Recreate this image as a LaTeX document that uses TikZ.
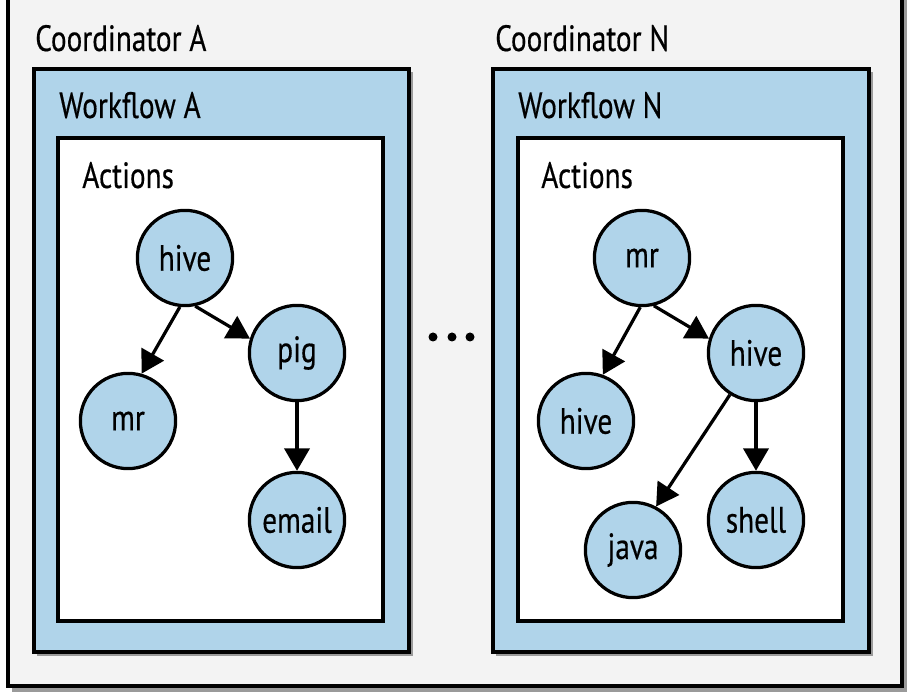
\documentclass[tikz,border=0pt]{standalone}
\usepackage{fontspec}
\setmainfont[FakeStretch=0.8, FakeBold=0.4]{PT Sans}
\usetikzlibrary{arrows.meta}
\definecolor{wfblue}{HTML}{B0D4EA}
\definecolor{bggray}{HTML}{F3F3F3}
\definecolor{shadowgray}{HTML}{9A9A9A}

\begin{document}
\begin{tikzpicture}[x=0.025cm, y=-0.025cm,
    box/.style={line width=2.7pt},
    title/.style={anchor=base west, inner sep=0pt, font=\fontsize{26}{28}\selectfont},
    action/.style={circle, draw, line width=2.3pt, fill=wfblue, minimum size=2.38cm,
        inner sep=0pt, font=\fontsize{26}{28}\selectfont},
    flow/.style={line width=2.3pt, -{Triangle[length=16pt, width=18pt]}}]
    \useasboundingbox (0,0) rectangle (910,694);
    \clip (0,0) rectangle (910,694);
    \fill[white] (0,0) rectangle (910,694);

    % Coordinator frame (top edge lies above the picture)
    \fill[shadowgray] (12,-10) rectangle (907,692);
    \filldraw[box, fill=bggray] (8,-20) rectangle (902,686);

    % Workflow A
    \fill[shadowgray] (37,72) rectangle (413,656);
    \filldraw[box, fill=wfblue] (34,69) rectangle (409,652);
    \filldraw[box, fill=white] (58,138) rectangle (383,621);
    % Workflow N
    \fill[shadowgray] (496,72) rectangle (873,656);
    \filldraw[box, fill=wfblue] (493,69) rectangle (869,652);
    \filldraw[box, fill=white] (518,138) rectangle (843,621);

    % Titles
    \node[title] (coordA) at (35,51) {Coordinator A};
    \node[title] (wfA) at (59,118) {Workflow A};
    \node[title] (actA) at (82,188) {Actions};
    \node[title] (coordN) at (495,51) {Coordinator N};
    \node[title] (wfN) at (518,118) {Workflow N};
    \node[title] (actN) at (541,188) {Actions};

    % Dots between the coordinators
    \foreach \x in {433,452,470}
        \fill (\x,337) circle (4.5);

    % Actions of workflow A
    \node[action] (hiveA) at (185,258) {hive};
    \node[action] (pigA) at (297,353) {pig};
    \node[action] (mrA) at (128,421) {mr};
    \node[action] (emailA) at (297,520) {email};
    \draw[flow] (hiveA.-96) -- (mrA.74);
    \draw[flow] (hiveA.-78) -- (pigA.163);
    \draw[flow] (pigA) -- (emailA);

    % Actions of workflow N
    \node[action] (mrN) at (642,258) {mr};
    \node[action] (hiveN) at (756,353) {hive};
    \node[action] (hiveNl) at (586,421) {hive};
    \node[action] (shellN) at (756,520) {shell};
    \node[action] (javaN) at (633,550) {java};
    \draw[flow] (mrN.-92) -- (hiveNl.70);
    \draw[flow] (mrN.-76) -- (hiveN.163);
    \draw[flow] (hiveN.-122) -- (javaN.62);
    \draw[flow] (hiveN) -- (shellN);
\end{tikzpicture}
\end{document}
